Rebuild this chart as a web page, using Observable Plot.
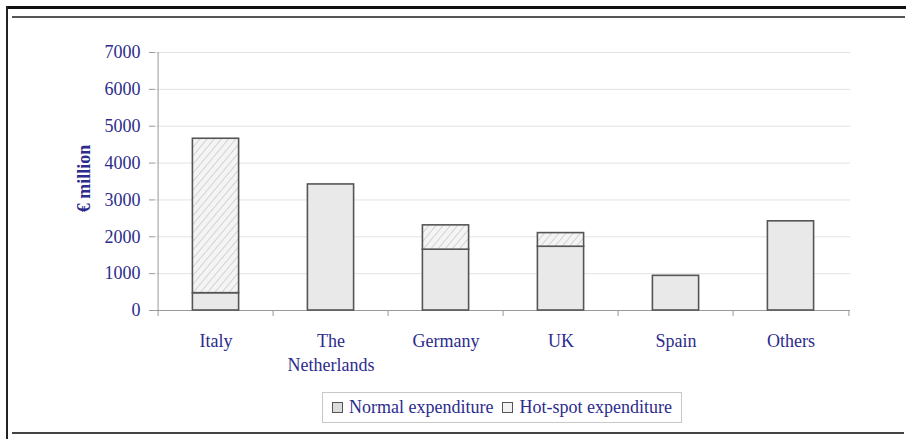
<!DOCTYPE html>
<html>
<head>
<meta charset="utf-8">
<script src="https://cdn.jsdelivr.net/npm/d3@7"></script>
<script src="https://cdn.jsdelivr.net/npm/@observablehq/plot@0.6"></script>
<style>
  body { margin: 0; background: #fff; }
  #wrap {
    position: relative; width: 906px; height: 439px; overflow: hidden;
    font-family: "Liberation Serif", "Times New Roman", serif;
  }
  #chart svg { display: block; }
  .rule { position: absolute; }
  #legend {
    position: absolute; left: 322px; top: 392px; width: 358px; height: 29px;
    border: 1px solid #c8c8c8; background: #fff;
    display: flex; align-items: center; justify-content: center; gap: 9px;
    font-family: "Liberation Serif", "Times New Roman", serif;
    font-size: 18px; color: #2c2c8c; white-space: nowrap;
  }
  #legend .item { display: flex; align-items: center; gap: 6px; }
  #legend .sw { width: 9px; height: 9px; border: 1px solid #555; }
</style>
</head>
<body>
<div id="wrap">
  <div id="chart"></div>
  <div class="rule" style="left:6px;top:6px;width:900px;height:3px;background:#111;"></div>
  <div class="rule" style="left:6px;top:6px;width:2px;height:433px;background:#222;"></div>
  <div class="rule" style="left:12px;top:16px;width:893px;height:2px;background:#555;"></div>
  <div class="rule" style="left:12px;top:432px;width:892px;height:2px;background:#444;"></div>
  <div id="legend"></div>
</div>
<script>
// Expenditure by country, € million
const countries = ["Italy", "The Netherlands", "Germany", "UK", "Spain", "Others"];
const normalSpend = [470, 3420, 1650, 1730, 940, 2420];
const hotSpotSpend = [4190, 0, 660, 370, 0, 0];
const seriesNames = ["Normal expenditure", "Hot-spot expenditure"];
const yTicks = [0, 1000, 2000, 3000, 4000, 5000, 6000, 7000];
const yLabel = "€ million";

const fontStack = '"Liberation Serif", "Times New Roman", serif';
const textColor = "#2c2c8c";
const axisColor = "#9a9a9a";
const W = 906, H = 385, ML = 155, MR = 56, MT = 52, MB = 75;
const band = (W - ML - MR) / countries.length;
const barInset = 34.4;

const normalRows = countries.map((c, i) => ({country: c, y1: 0, y2: normalSpend[i]}));
const hotRows = countries
  .map((c, i) => ({country: c, y1: normalSpend[i], y2: normalSpend[i] + hotSpotSpend[i]}))
  .filter((d, i) => hotSpotSpend[i] > 0);

const chart = Plot.plot({
  width: W, height: H,
  marginLeft: ML, marginRight: MR, marginTop: MT, marginBottom: MB,
  style: {fontFamily: fontStack, fontSize: "18px", background: "transparent", overflow: "visible"},
  x: {domain: countries, padding: 0, axis: null},
  y: {domain: [0, 7000], axis: null},
  marks: [
    Plot.gridY(yTicks.slice(1), {stroke: "#e3e3e3", strokeOpacity: 1}),
    Plot.axisY(yTicks, {tickSize: 6, tickPadding: 9, stroke: axisColor, fill: textColor, label: null,
      fontSize: 18, fontFamily: fontStack, tickFormat: d => String(d)}),
    Plot.axisX({tickSize: 0, tickPadding: 20, fill: textColor, label: null, fontSize: 18, fontFamily: fontStack,
      lineHeight: 1.33, tickFormat: d => d.replace(" ", "\n")}),
    Plot.ruleY([0], {stroke: axisColor}),
    // value axis line (also the leftmost category boundary tick)
    Plot.ruleX([countries[0]], {dx: -band / 2, stroke: axisColor, insetBottom: -6}),
    // category boundary ticks
    Plot.ruleX(countries.slice(1), {x: d => d, dx: -band / 2, y1: 0, y2: 0, insetBottom: -6, stroke: axisColor}),
    Plot.ruleX([countries[countries.length - 1]], {dx: band / 2, y1: 0, y2: 0, insetBottom: -6, stroke: axisColor}),
    Plot.barY(normalRows, {x: "country", y1: "y1", y2: "y2", fill: "#e9e9e9", stroke: "#555", strokeWidth: 1.6,
      insetLeft: barInset, insetRight: barInset}),
    Plot.barY(hotRows, {x: "country", y1: "y1", y2: "y2", fill: "url(#hatch)", stroke: "#555", strokeWidth: 1.6,
      insetLeft: barInset, insetRight: barInset}),
    Plot.text([yLabel], {frameAnchor: "left", textAnchor: "middle", dx: -71, dy: -3, rotate: -90,
      fontWeight: "bold", fontSize: 18, fontFamily: fontStack, fill: textColor})
  ]
});

d3.select(chart).insert("defs", ":first-child").html(
  `<pattern id="hatch" width="5.5" height="5.5" patternUnits="userSpaceOnUse" patternTransform="rotate(40)">
     <rect width="5.5" height="5.5" fill="#f4f4f4"/>
     <line x1="0" y1="0" x2="0" y2="5.5" stroke="#b8b8b8" stroke-width="1.1"/>
   </pattern>`
);
document.getElementById("chart").appendChild(chart);

// legend
const swatchFills = ["#dcdcdc", "#f2f2f2"];
const legend = d3.select("#legend");
seriesNames.forEach((name, i) => {
  const item = legend.append("div").attr("class", "item");
  item.append("div").attr("class", "sw").style("background", swatchFills[i]);
  item.append("span").text(name);
});
</script>
</body>
</html>
